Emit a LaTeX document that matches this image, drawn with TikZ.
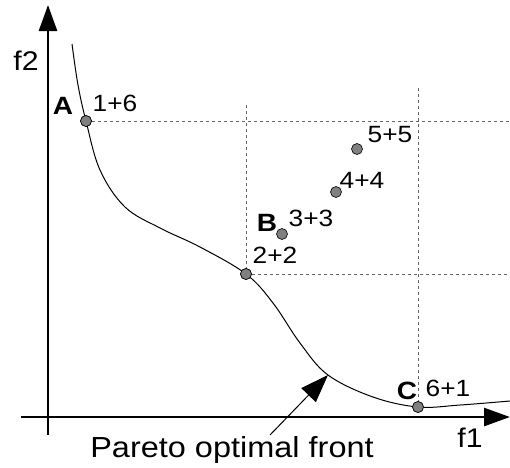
\documentclass[tikz,border=0pt]{standalone}
\usepackage{fontspec}
\setmainfont{Liberation Sans}[FakeStretch=1.12]
\usetikzlibrary{arrows.meta}
\begin{document}
\begin{tikzpicture}[x=1pt,y=-1pt,
  axis/.style={line width=2.6pt,-{Triangle[length=26pt,width=18pt]}},
  guide/.style={line width=0.9pt,draw=black!60,dash pattern=on 3pt off 3pt},
  pt/.style={circle,fill=black!50,draw=black,line width=0.6pt,minimum size=11pt,inner sep=0pt},
  lbl/.style={font=\fontsize{23.5}{23.5}\selectfont,inner sep=0pt},
  blbl/.style={font=\fontsize{25}{25}\selectfont\bfseries,inner sep=0pt},
  axlbl/.style={font=\fontsize{27}{27}\selectfont,inner sep=0pt}]
\useasboundingbox (0,0) rectangle (510,467);
% guides
\coordinate (gA) at (510,121);
\coordinate (gT1) at (246,105);
\coordinate (gT2) at (418,88);
\coordinate (gR2) at (510,274);
\node[pt] (pA) at (86,121) {};
\node[pt] (p2) at (246,274) {};
\node[pt] (pB) at (282,234) {};
\node[pt] (p4) at (336,192) {};
\node[pt] (p5) at (357,149) {};
\node[pt] (pC) at (418,407) {};
\draw[guide] (pA.east) -- (gA);
\draw[guide] (gT1) -- (p2.north);
\draw[guide] (p2.east) -- (gR2);
\draw[guide] (gT2) -- (pC.north);
% axes
\coordinate (xs) at (21,417);
\coordinate (xe) at (510,417);
\coordinate (ys) at (48,435);
\coordinate (ye) at (48,5);
\draw[axis] (xs) -- (xe);
\draw[axis] (ys) -- (ye);
% curve
\draw[line width=1pt] plot[smooth,tension=0.6] coordinates {
  (72,44) (78,85) (86,121) (100,170) (125,207) (160,228) (200,247) (246,274)
  (273,303) (300,343) (328,375) (373,397) (418,407) (460,405) (510,401)};
\node[pt] at (86,121) {};
\node[pt] at (246,274) {};
\node[pt] at (418,407) {};
% labels
\node[axlbl] (f2) at (26,61) {f2};
\node[axlbl] (f1) at (470,438) {f1};
\node[blbl] (lA) at (63,106) {A};
\node[lbl] (l16) at (115,103) {1+6};
\node[blbl] (lB) at (267,223) {B};
\node[lbl] (l33) at (311,218) {3+3};
\node[lbl] (l44) at (362,180) {4+4};
\node[lbl] (l55) at (390,135) {5+5};
\node[lbl] (l22) at (275,255) {2+2};
\node[blbl] (lC) at (407,391) {C};
\node[lbl] (l61) at (448,388) {6+1};
\node[font=\fontsize{29}{29}\selectfont,inner sep=0pt,anchor=base] (pf) at (232,457) {Pareto optimal front};
\coordinate (tip) at (328,375);
\draw[line width=1pt,-{Triangle[length=28pt,width=20pt]}] (270,435) -- (tip);
\end{tikzpicture}
\end{document}
